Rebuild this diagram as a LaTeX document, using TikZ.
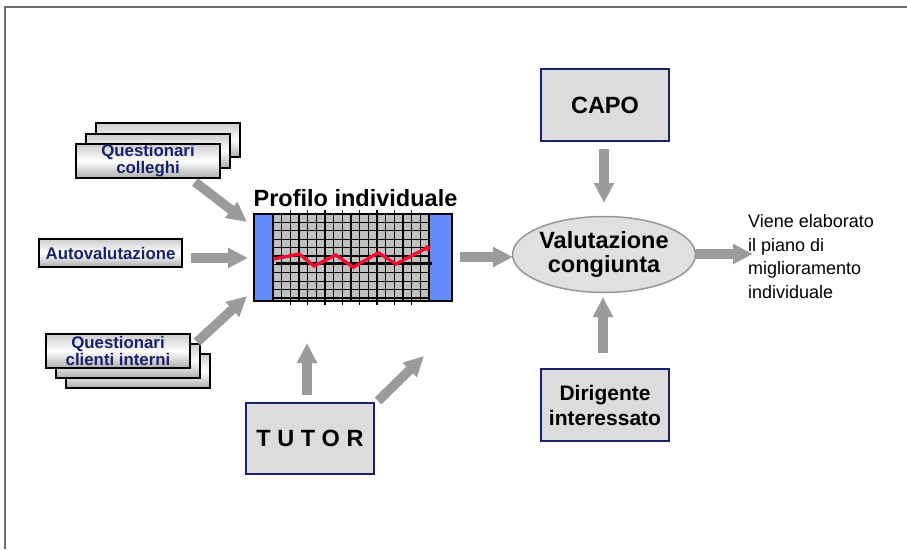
\documentclass[tikz,border=0pt]{standalone}
\usepackage{fontspec}
\setmainfont{Liberation Sans}
\usetikzlibrary{arrows.meta,shapes.geometric}
\definecolor{navy}{RGB}{25,35,105}
\definecolor{framegray}{RGB}{110,110,110}
\definecolor{arrowgray}{RGB}{155,155,155}
\definecolor{panelgray}{RGB}{192,192,192}
\definecolor{stripblue}{RGB}{100,140,250}
\definecolor{boxgray}{RGB}{220,220,220}
\definecolor{ovalgray}{RGB}{224,224,224}
\definecolor{ovalline}{RGB}{150,150,150}
\definecolor{linered}{RGB}{250,10,50}
\begin{document}
\begin{tikzpicture}[x=1pt,y=-1pt,
  card/.style={draw=black, line width=2pt, minimum width=144pt, minimum height=34pt,
    inner sep=0pt, top color=gray!40, bottom color=gray!65, middle color=white,
    font=\fontsize{16.8}{17}\selectfont\bfseries, text=navy, align=center},
  rolebox/.style={draw=navy, line width=1.5pt, fill=boxgray, inner sep=0pt,
    minimum width=128pt, align=center, text=black},
  blk/.style={draw=arrowgray, line width=9.5pt, -{Triangle[length=20pt,width=19pt]}},
  gridline/.style={black, line width=1.3pt}
]
\useasboundingbox (0,0) rectangle (907,549);

% page frame
\draw[framegray, line width=2pt] (907,7) -- (5,7) -- (5,549);

% questionnaire stacks and self-assessment
\node[card] (qcb) at (168,140) {};
\node[card] (qcm) at (158,150.5) {};
\node[card] (qcf) at (148,161) {Questionari\\colleghi};
\node[card, minimum width=143pt, minimum height=28pt] (auto) at (110.5,253) {Autovalutazione};
\node[card] (qib) at (138,371) {};
\node[card] (qim) at (128,361) {};
\node[card] (qif) at (118,351) {Questionari\\clienti interni};

% individual profile panel
\node[minimum width=198pt, minimum height=87pt, inner sep=0pt] (prof) at (353,257.5) {};
\fill[panelgray] (273,214) rectangle (429,301);
\foreach \k in {1,...,17} {
  \draw[gridline] ({273+8.67*\k},214) -- ({273+8.67*\k},301);
}
\foreach \k in {2,4,...,16} {
  \draw[gridline] ({273+8.67*\k},210) -- ({273+8.67*\k},305);
}
\foreach \k in {1,...,10} {
  \draw[gridline] (273,{214+8.4*\k}) -- (429,{214+8.4*\k});
}
\fill[stripblue] (254,214) rectangle (273,301);
\fill[stripblue] (429,214) rectangle (452,301);
\draw[black, line width=1.5pt] (273,214) -- (273,301) (429,214) -- (429,301);
\draw[black, line width=1.5pt] (prof.north west) rectangle (prof.south east);
\draw[black, line width=3pt] (276,263) -- (432,263);
\draw[linered, line width=3.3pt, line join=miter, -{Triangle[length=5pt,width=7pt]}]
  (273.3,259) -- (299.3,254) -- (314,266) -- (335.7,255) -- (353.3,267.3)
  -- (378.3,252.7) -- (396,264) -- (422.7,250) -- (431,246.5);
\node[anchor=base, inner sep=0pt, font=\fontsize{23.5}{26}\selectfont\bfseries]
  (proftitle) at (355.5,206) {Profilo individuale};

% evaluation roles
\node[rolebox, minimum height=72pt, font=\fontsize{23.5}{26}\selectfont\bfseries]
  (capo) at (605,105) {CAPO};
\node[rolebox, minimum height=72pt, font=\fontsize{21}{25}\selectfont\bfseries]
  (dir) at (605,405) {Dirigente\\interessato};
\node[rolebox, minimum height=71pt, font=\fontsize{23.5}{26}\selectfont\bfseries]
  (tutor) at (310,438.5) {T U T O R};
\node[ellipse, draw=ovalline, line width=1.5pt, fill=ovalgray, minimum width=170pt,
  minimum height=76pt, inner sep=0pt, align=center,
  font=\fontsize{23.5}{24}\selectfont\bfseries] (val) at (604,254.5)
  {Valutazione\\congiunta};
\node[anchor=north west, inner sep=0pt, align=left,
  font=\fontsize{18}{23.5}\selectfont] (plan) at (748,214.5)
  {Viene elaborato\\il piano di\\miglioramento\\individuale};

% block arrows
\coordinate (a1s) at (195,182);   \coordinate (a1e) at (247,222);
\coordinate (a2s) at (191,258);   \coordinate (a2e) at (248,258);
\coordinate (a3s) at (197,342);   \coordinate (a3e) at (247,296);
\coordinate (a4s) at (307,395);   \coordinate (a4e) at (307,343);
\coordinate (a5s) at (378,401);   \coordinate (a5e) at (424,356);
\coordinate (a6s) at (460,257);   \coordinate (a6e) at (513,257);
\coordinate (a7s) at (604,149);   \coordinate (a7e) at (604,203);
\coordinate (a8s) at (603,353);   \coordinate (a8e) at (603,297);
\coordinate (a9s) at (695,254);   \coordinate (a9e) at (753,254);
\foreach \n in {1,...,9} { \draw[blk] (a\n s) -- (a\n e); }
\end{tikzpicture}
\end{document}
